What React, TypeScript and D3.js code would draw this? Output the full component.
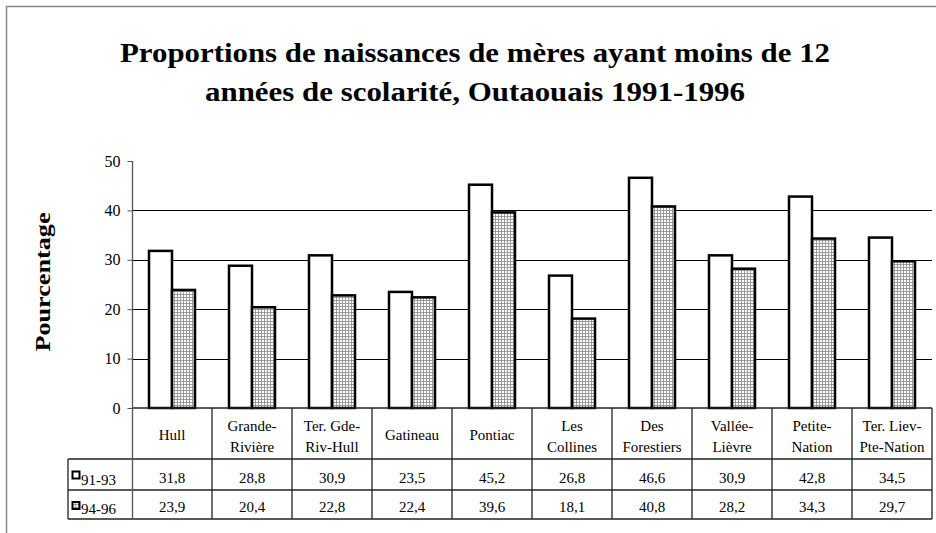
import React, { useEffect, useRef } from 'react';
import * as d3 from 'd3';

const titleLines = [
  'Proportions de naissances de mères ayant moins de 12',
  'années de scolarité, Outaouais 1991-1996',
];
const categories = [
  ['Hull'],
  ['Grande-', 'Rivière'],
  ['Ter. Gde-', 'Riv-Hull'],
  ['Gatineau'],
  ['Pontiac'],
  ['Les', 'Collines'],
  ['Des', 'Forestiers'],
  ['Vallée-', 'Lièvre'],
  ['Petite-', 'Nation'],
  ['Ter. Liev-', 'Pte-Nation'],
];
const seriesNames = ['91-93', '94-96'];
const values9193 = [31.8, 28.8, 30.9, 23.5, 45.2, 26.8, 46.6, 30.9, 42.8, 34.5];
const values9496 = [23.9, 20.4, 22.8, 22.4, 39.6, 18.1, 40.8, 28.2, 34.3, 29.7];
const yTicks = [0, 10, 20, 30, 40, 50];
const yLabel = 'Pourcentage';

const fmt = (v: number) => v.toFixed(1).replace('.', ',');
const serif = "'Liberation Serif', 'Times New Roman', Times, serif";

const App = () => {
  const ref = useRef<SVGSVGElement | null>(null);

  useEffect(() => {
    if (!ref.current) return;
    const width = 936, height = 533;
    const left = 132, right = 932, top = 161, bottom = 408;
    const legendX = 68;
    const rowHeader = 459, row1 = 490, row2 = 519;

    const svg = d3.select(ref.current);
    svg.selectAll('*').remove();

    // hatch pattern for the second series
    const defs = svg.append('defs');
    const pat = defs.append('pattern')
      .attr('id', 'grid')
      .attr('patternUnits', 'userSpaceOnUse')
      .attr('width', 3).attr('height', 3);
    pat.append('rect').attr('width', 3).attr('height', 3).attr('fill', '#fff');
    pat.append('rect').attr('width', 3).attr('height', 1).attr('fill', '#9a9a9a');
    pat.append('rect').attr('width', 1).attr('height', 3).attr('fill', '#9a9a9a');

    // frame
    svg.append('rect').attr('width', width).attr('height', height).attr('fill', '#fff');
    svg.append('path')
      .attr('d', `M6.5,${height}V6.5H${width}`)
      .attr('fill', 'none').attr('stroke', '#888').attr('stroke-width', 1.5);

    // title
    titleLines.forEach((t, i) => {
      svg.append('text')
        .attr('x', 475).attr('y', 62 + i * 39)
        .attr('text-anchor', 'middle')
        .style('font-family', serif).style('font-weight', 'bold').style('font-size', '28px')
        .attr('textLength', i === 0 ? 710 : 540)
        .attr('lengthAdjust', 'spacingAndGlyphs')
        .text(t);
    });

    const x = d3.scaleBand<number>().domain(d3.range(categories.length)).range([left, right]);
    const xs = d3.scaleBand<number>().domain([0, 1]).range([17, 63]);
    const y = d3.scaleLinear().domain([0, 50]).range([bottom, top]);

    // gridlines
    svg.append('g').selectAll('line')
      .data(yTicks.filter(d => d > 0 && d < 50))
      .enter().append('line')
      .attr('x1', left).attr('x2', right)
      .attr('y1', d => Math.round(y(d)) + 0.5).attr('y2', d => Math.round(y(d)) + 0.5)
      .attr('stroke', '#000').attr('stroke-width', 1);

    // y axis
    const yAxis = svg.append('g')
      .attr('transform', `translate(${left + 0.5},0)`)
      .call(d3.axisLeft(y).tickValues(yTicks).tickSize(5).tickPadding(7));
    yAxis.select('.domain').remove();
    yAxis.selectAll('line').attr('stroke', '#555');
    yAxis.selectAll('text')
      .style('font-family', serif).style('font-size', '16px').attr('fill', '#000');

    svg.append('text')
      .attr('transform', `translate(50,282) rotate(-90)`)
      .attr('text-anchor', 'middle')
      .style('font-family', serif).style('font-weight', 'bold').style('font-size', '22px')
      .attr('textLength', 139).attr('lengthAdjust', 'spacingAndGlyphs')
      .text(yLabel);

    // bars
    const series = [values9193, values9496];
    const fills = ['#fff', 'url(#grid)'];
    series.forEach((vals, s) => {
      svg.append('g').selectAll('rect')
        .data(vals)
        .enter().append('rect')
        .attr('x', (d, i) => (x(i) as number) + (xs(s) as number))
        .attr('y', d => y(d))
        .attr('width', xs.bandwidth())
        .attr('height', d => bottom - y(d))
        .attr('fill', fills[s])
        .attr('stroke', '#000').attr('stroke-width', 2.5);
    });

    // data table
    const tbl = svg.append('g').attr('stroke', '#222').attr('stroke-width', 1.3);
    tbl.append('line').attr('x1', left).attr('x2', right).attr('y1', bottom).attr('y2', bottom);
    [rowHeader, row1, row2].forEach(yy => {
      tbl.append('line').attr('x1', legendX).attr('x2', right).attr('y1', yy).attr('y2', yy);
    });
    tbl.append('line').attr('x1', left + 0.5).attr('x2', left + 0.5).attr('y1', top).attr('y2', row2).attr('stroke', '#555');
    tbl.append('line').attr('x1', legendX).attr('x2', legendX).attr('y1', rowHeader).attr('y2', row2);
    categories.forEach((c, i) => {
      const xe = (x(i) as number) + x.bandwidth();
      tbl.append('line').attr('x1', xe).attr('x2', xe).attr('y1', bottom).attr('y2', row2);
    });

    const txt = svg.append('g')
      .style('font-family', serif).style('font-size', '15px').attr('text-anchor', 'middle');
    categories.forEach((c, i) => {
      const cx = (x(i) as number) + x.bandwidth() / 2;
      c.forEach((line, j) => {
        txt.append('text')
          .attr('x', cx)
          .attr('y', c.length === 1 ? 440 : 431 + j * 21)
          .text(line);
      });
      txt.append('text').attr('x', cx).attr('y', 483).text(fmt(values9193[i]));
      txt.append('text').attr('x', cx).attr('y', 512).text(fmt(values9496[i]));
    });

    // legend keys
    seriesNames.forEach((name, s) => {
      const ky = s === 0 ? 471.5 : 502;
      svg.append('rect')
        .attr('x', 72.5).attr('y', ky).attr('width', 7).attr('height', 7)
        .attr('fill', fills[s]).attr('stroke', '#000').attr('stroke-width', 2);
      svg.append('text')
        .attr('x', 81).attr('y', s === 0 ? 485 : 514)
        .style('font-family', serif).style('font-size', '15px')
        .text(name);
    });
  }, []);

  return (
    <svg ref={ref} width={936} height={533}
      style={{ position: 'absolute', left: 0, top: 0, display: 'block' }} />
  );
};

export default App;
